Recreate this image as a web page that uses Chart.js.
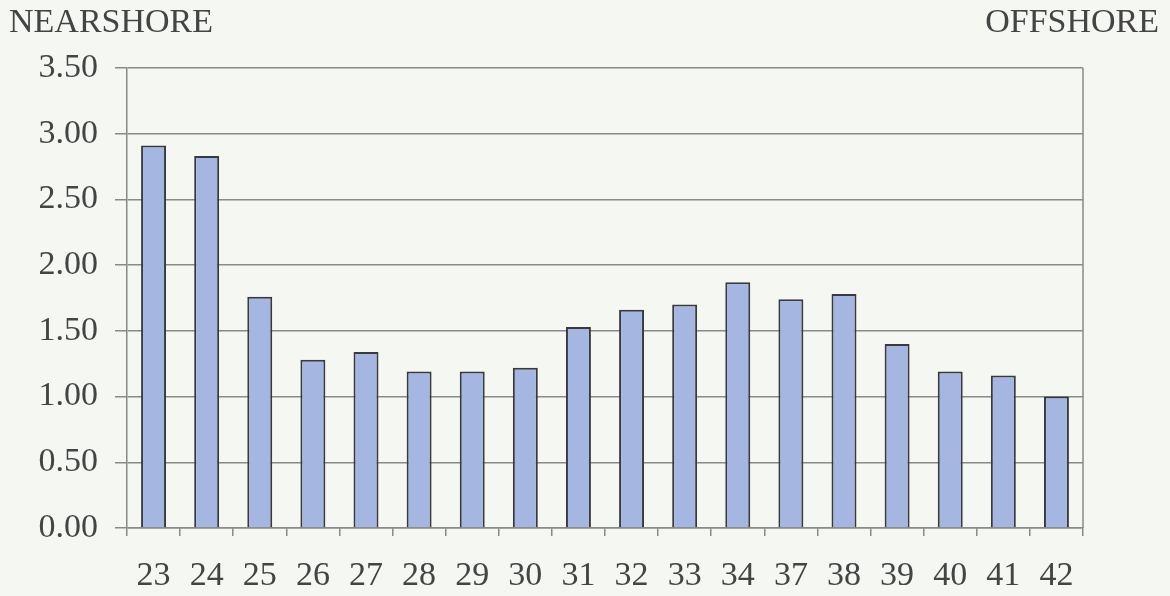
<!DOCTYPE html>
<html>
<head>
<meta charset="utf-8">
<script src="https://cdn.jsdelivr.net/npm/chart.js@4"></script>
<style>
  html, body { margin: 0; padding: 0; background: #f5f7f3; }
  #wrap { position: relative; width: 1170px; height: 596px; }
</style>
</head>
<body>
<div id="wrap"><canvas id="c" width="1170" height="596"></canvas></div>
<script>
// Station numbers along the transect, nearshore to offshore
const stations = ['23','24','25','26','27','28','29','30','31','32','33','34','37','38','39','40','41','42'];
// Measured value per station
const values = [2.91, 2.83, 1.76, 1.28, 1.34, 1.19, 1.19, 1.22, 1.53, 1.66, 1.70, 1.87, 1.74, 1.78, 1.40, 1.19, 1.16, 1.00];
// Value axis range and step
const yMin = 0, yMax = 3.5, yStep = 0.5;
// Labels at the two ends of the transect
const leftHeader = 'NEARSHORE';
const rightHeader = 'OFFSHORE';

const FONT = '"Liberation Serif", "Times New Roman", serif';
const TEXT = '#444444';
const GRID = '#8a8a8a';

// Frame on the plot area plus the two corner headers
const framePlugin = {
  id: 'frame',
  afterDraw(chart) {
    const { ctx, chartArea: a } = chart;
    ctx.save();
    ctx.strokeStyle = GRID;
    ctx.lineWidth = 1.5;
    ctx.beginPath();
    ctx.moveTo(a.right, a.top);
    ctx.lineTo(a.right, a.bottom);
    ctx.stroke();
    ctx.fillStyle = TEXT;
    ctx.font = '34px ' + FONT;
    ctx.textBaseline = 'alphabetic';
    ctx.textAlign = 'left';
    ctx.fillText(leftHeader, 9, 32);
    ctx.textAlign = 'right';
    ctx.fillText(rightHeader, 1159, 32);
    ctx.restore();
  }
};

new Chart(document.getElementById('c'), {
  type: 'bar',
  data: {
    labels: stations,
    datasets: [{
      data: values,
      backgroundColor: '#a5b6e1',
      borderColor: '#383a3f',
      borderWidth: 2,
      barPercentage: 0.47,
      categoryPercentage: 1.0
    }]
  },
  options: {
    responsive: false,
    animation: false,
    layout: { padding: { top: 68, right: 87, bottom: 0, left: 0 } },
    plugins: { legend: { display: false }, tooltip: { enabled: false }, title: { display: false } },
    scales: {
      x: {
        afterFit(s) { s.height = 68; },
        grid: {
          offset: true,
          drawOnChartArea: false,
          drawTicks: true,
          tickLength: 8,
          color: GRID,
          lineWidth: 1.5
        },
        border: { color: GRID, width: 1.5 },
        ticks: {
          color: TEXT,
          font: { family: FONT, size: 34 },
          padding: 20,
          maxRotation: 0,
          autoSkip: false
        }
      },
      y: {
        min: yMin,
        max: yMax,
        afterFit(s) { s.width = 127; },
        grid: {
          color: GRID,
          lineWidth: 1.5,
          drawTicks: true,
          tickLength: 12
        },
        border: { color: GRID, width: 1.5 },
        ticks: {
          stepSize: yStep,
          color: TEXT,
          font: { family: FONT, size: 34 },
          padding: 17,
          callback: v => Number(v).toFixed(2)
        }
      }
    }
  },
  plugins: [framePlugin]
});
</script>
</body>
</html>
